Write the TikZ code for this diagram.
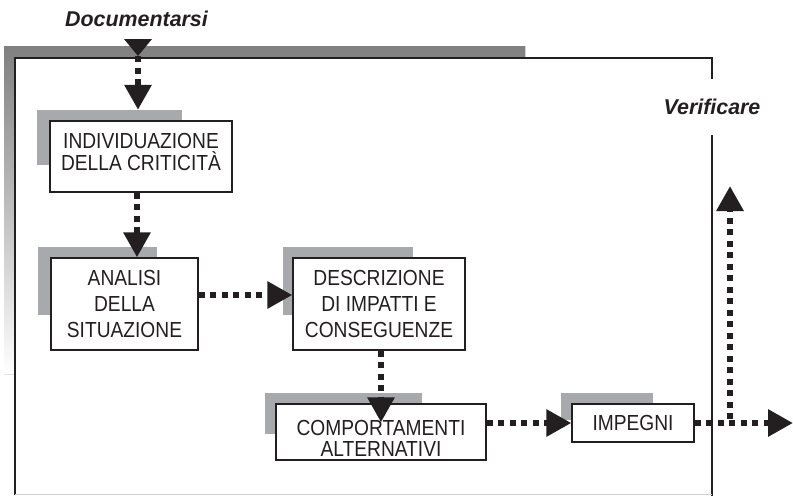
\documentclass[tikz,border=0pt]{standalone}
\usepackage{fontspec}
\setmainfont{Liberation Sans}
\newfontfamily\boxfont{Liberation Sans}[FakeStretch=0.88]
\usetikzlibrary{arrows.meta,calc}
\definecolor{ink}{RGB}{35,31,32}
\definecolor{shade}{RGB}{167,169,172}

\begin{document}
\begin{tikzpicture}[x=1pt,y=-1pt,
  backing/.style={fill=shade, draw=none, inner sep=0pt},
  stage/.style={draw=ink, line width=1.3pt, fill=white, align=center,
    inner sep=0pt, text=ink,
    font=\boxfont\fontsize{21.8}{22}\selectfont,
    execute at begin node={\lineskiplimit=-20pt\relax}},
  flow/.style={draw=ink, line width=6pt, dash pattern=on 6pt off 5.5pt,
    -{Triangle[length=25pt,width=26pt]}},
  heading/.style={font=\fontsize{21.4}{24}\selectfont\bfseries\itshape,
    text=ink, inner sep=0pt},
  frameline/.style={draw=ink, line width=1.3pt}]

\useasboundingbox (0,0) rectangle (793,496);

% grey band along the top and left of the frame
\fill[shade] (4,46) -- (525,46) -- (525,58) -- (15,58) -- (15,374) -- (4,374) -- cycle;

% headings
\node[heading] (doc) at (136.5,19) {Documentarsi};
\node[heading, minimum height=56pt] (verif) at (712,107) {Verificare};

% frame
\draw[frameline] (15,495) -- (15,58) -- (712,58) -- (verif.north);
\draw[frameline] (verif.south) -- (712,496);
\draw[gray!35, line width=1pt] (15,494.5) -- (712,494.5);

% grey backings behind the stages
\node[backing, minimum width=145pt, minimum height=55pt] (s1) at (109.5,137.5) {};
\node[backing, minimum width=119pt, minimum height=68pt] (s2) at (97.5,281) {};
\node[backing, minimum width=130pt, minimum height=68pt] (s3) at (348,281) {};
\node[backing, minimum width=157pt, minimum height=41pt] (s4) at (343.5,413.5) {};
\node[backing, minimum width=92pt, minimum height=27pt] (s5) at (607,406.5) {};

% stages
\node[stage, minimum width=182pt, minimum height=71pt] (b1) at (141,156.5)
  {INDIVIDUAZIONE\\DELLA CRITICITÀ\rule[-10pt]{0pt}{0pt}};
\node[stage, minimum width=147pt, minimum height=92pt] (b2) at (124.5,304)
  {ANALISI\\[4pt]DELLA\\[4pt]SITUAZIONE};
\node[stage, minimum width=172pt, minimum height=92pt] (b3) at (379,304)
  {DESCRIZIONE\\[4pt]DI IMPATTI E\\[4pt]CONSEGUENZE};
\node[stage, minimum width=210pt, minimum height=56pt,
  font=\boxfont\fontsize{21.8}{21}\selectfont] (b4) at (381,432)
  {\rule{0pt}{28.6pt}COMPORTAMENTI\\ALTERNATIVI};
\node[stage, minimum width=122pt, minimum height=38pt] (b5) at (633,423)
  {IMPEGNI};

% free ends of the connectors
\coordinate (docin) at (138,56);
\coordinate (outR) at (793,423);
\coordinate (vbase) at (730,419);
\coordinate (vtop) at (730,186);

% connectors
\fill[ink] (docin) -- ++(-14,-17) -- ++(28,0) -- cycle;
\draw[flow] (docin) -- (docin |- s1.north);
\draw[flow] ([xshift=-4pt]b1.south) -- ([xshift=-4pt]b1.south |- b2.north);
\draw[flow] ([yshift=9pt]b2.east) -- ([yshift=9pt]b2.east -| b3.west);
\draw[flow] (b3.south -| b4.north) -- ([yshift=-19pt]b4.north);
\draw[flow] (b5.west -| b4.east) -- (b5.west);
\draw[flow] (b5.east) -- (outR);
\draw[flow] (vbase) -- (vtop);

\end{tikzpicture}
\end{document}
